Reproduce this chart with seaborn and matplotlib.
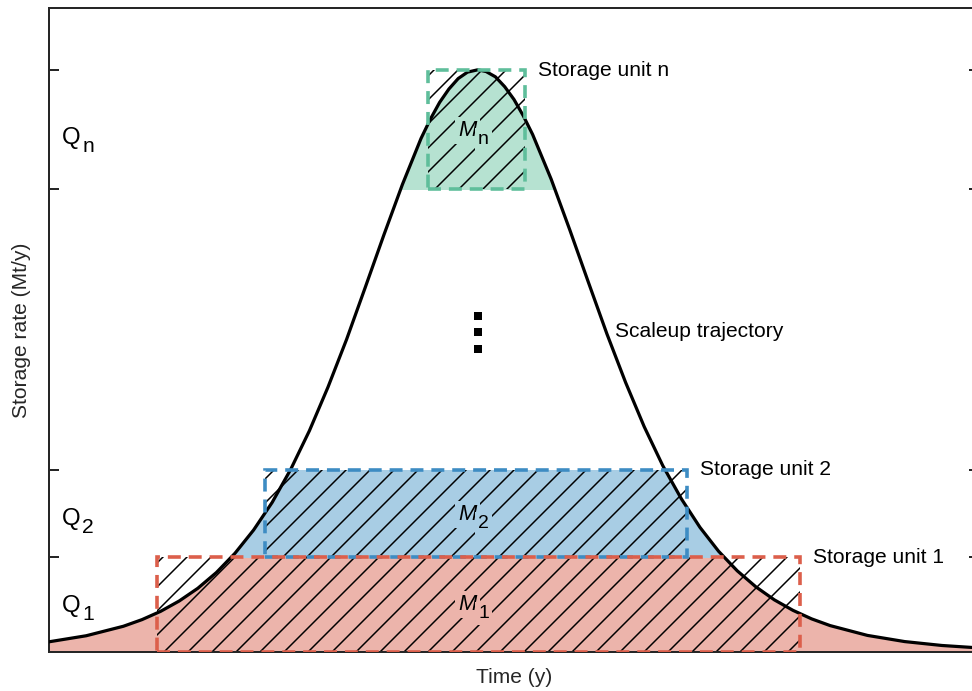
import numpy as np
import pandas as pd
import matplotlib
matplotlib.use("Agg")
import matplotlib.pyplot as plt
import seaborn as sns
from matplotlib.patches import Rectangle

# ---------------- data ----------------
time_y = [0, 4, 8, 10, 12, 14, 16, 18, 20, 22, 24, 26, 28, 30, 32, 34, 36, 38,
          40, 41, 42, 43, 44, 45, 46.1, 47, 48, 49, 50, 51, 52, 54, 56, 58, 60,
          62, 64, 66, 68, 70, 72, 74, 76, 78, 80, 82, 84, 88, 92, 96, 100]
storage_rate = [1.75, 2.79, 4.42, 5.56, 6.98, 8.76, 10.94, 13.65, 16.96, 20.95,
                25.7, 31.4, 38.0, 45.5, 53.7, 62.6, 71.6, 80.3, 88.2, 91.5, 94.4,
                96.7, 98.5, 99.6, 100.0, 99.7, 98.8, 97.1, 94.9, 92.1, 88.9, 81.2,
                72.5, 63.5, 54.6, 46.3, 38.7, 32.0, 26.3, 21.4, 17.3, 13.95, 11.2,
                8.95, 7.15, 5.69, 4.53, 2.85, 1.79, 1.12, 0.70]

unit_names = ["Storage unit 1", "Storage unit 2", "Storage unit n"]
unit_start = [11.6, 23.2, 40.75]          # time where each unit starts
unit_end = [80.75, 68.6, 51.2]            # time where each unit ends
level_low = [0.0, 16.3, 79.5]             # lower rate bound of each band
level_high = [16.3, 31.3, 100.0]          # upper rate bound (Q levels)
q_subs = ["1", "2", "n"]
q_label_rates = [8.0, 22.9, 88.4]
m_label_rates = [8.2, 23.6, 89.6]
edge_colors = ["#dc5f4b", "#3d8cc3", "#5fbe9b"]
fill_colors = ["#ecb4ab", "#a8cde4", "#b6e2d1"]

peak_time = 46.1
m_label_left = 44.0
q_label_left = 1.4
ellipsis_rates = [57.7, 55.0, 52.1]
trajectory_label = ("Scaleup trajectory", 60.9, 55.0)
x_limits = (0, 100)
y_limits = (0, 110.65)

# ---------------- style ----------------
sns.set_theme(style="ticks")
plt.rcParams["font.family"] = ["Liberation Sans", "DejaVu Sans"]
plt.rcParams.update({
    "hatch.linewidth": 0.75,
    "hatch.color": "black",
    "axes.edgecolor": "#262626",
    "axes.linewidth": 1.0,
})

fs = 10.5
fig = plt.figure(figsize=(6.75, 4.8), dpi=144)
ax = fig.add_axes([49 / 972, 1 - 652 / 691, (979 - 49) / 972, (652 - 8) / 691])

df = pd.DataFrame({"Time": time_y, "Rate": storage_rate})

# shaded bands under the trajectory
for lo, hi, fc, i in zip(level_low, level_high, fill_colors, range(3)):
    top = hi if i < 2 else y_limits[1]
    poly = ax.fill_between(df["Time"], 0, df["Rate"], color=fc, lw=0, zorder=1)
    clip = Rectangle((x_limits[0], lo), x_limits[1] - x_limits[0], top - lo,
                     transform=ax.transData)
    poly.set_clip_path(clip)

# hatched unit rectangles
for x0, x1, lo, hi in zip(unit_start, unit_end, level_low, level_high):
    ax.add_patch(Rectangle((x0, lo), x1 - x0, hi - lo, fill=False, hatch="//",
                           edgecolor="black", lw=0, zorder=2))

# trajectory
sns.lineplot(data=df, x="Time", y="Rate", color="black", lw=1.6, ax=ax,
             zorder=5, sort=False)

# dashed unit outlines (unit 1 drawn last)
for idx in [2, 1, 0]:
    x0, x1, lo, hi = unit_start[idx], unit_end[idx], level_low[idx], level_high[idx]
    ax.add_patch(Rectangle((x0, lo), x1 - x0, hi - lo, fill=False,
                           edgecolor=edge_colors[idx], lw=1.8,
                           ls=(0, (3.6, 2.2)), zorder=6))


def sub_label(x, y, main, sub, size, style="normal", bg=None):
    kw = dict(color="black", zorder=8)
    if bg is not None:
        box = dict(facecolor=bg, edgecolor="none", pad=1.5)
    else:
        box = None
    t = ax.text(x, y, main, ha="left", va="center", fontsize=size,
                style=style, bbox=box, **kw)
    ax.annotate(sub, xy=(1, 0), xycoords=t, xytext=(0.8, -3.6),
                textcoords="offset points", ha="left", va="bottom",
                fontsize=size * 0.88, bbox=box, **kw)


# labels
for i in range(3):
    sub_label(m_label_left, m_label_rates[i], "M", q_subs[i], 11,
              style="italic", bg=fill_colors[i])
    sub_label(q_label_left, q_label_rates[i], "Q", q_subs[i], 12)
    ax.text(unit_end[i] + 1.4, level_high[i], unit_names[i], ha="left",
            va="center", fontsize=fs, color="black", zorder=8)

ax.text(trajectory_label[1], trajectory_label[2], trajectory_label[0],
        ha="left", va="center", fontsize=fs, color="black", zorder=8)

ax.plot([peak_time] * len(ellipsis_rates), ellipsis_rates, "s", color="black",
        ms=3, zorder=8)

ax.set_xlim(*x_limits)
ax.set_ylim(*y_limits)
ax.set_xticks([])
ax.set_yticks(level_high + [level_low[2]])
ax.set_yticklabels([])
ax.tick_params(axis="y", direction="in", length=5, width=1.0, color="#262626",
               left=True, right=True, labelleft=False)
for s in ["top", "right", "left", "bottom"]:
    ax.spines[s].set_visible(True)

ax.set_xlabel("Time (y)", fontsize=fs, color="#262626", labelpad=8)
ax.set_ylabel("Storage rate (Mt/y)", fontsize=fs, color="#262626", labelpad=9)

fig.savefig("out.png", dpi=144)
